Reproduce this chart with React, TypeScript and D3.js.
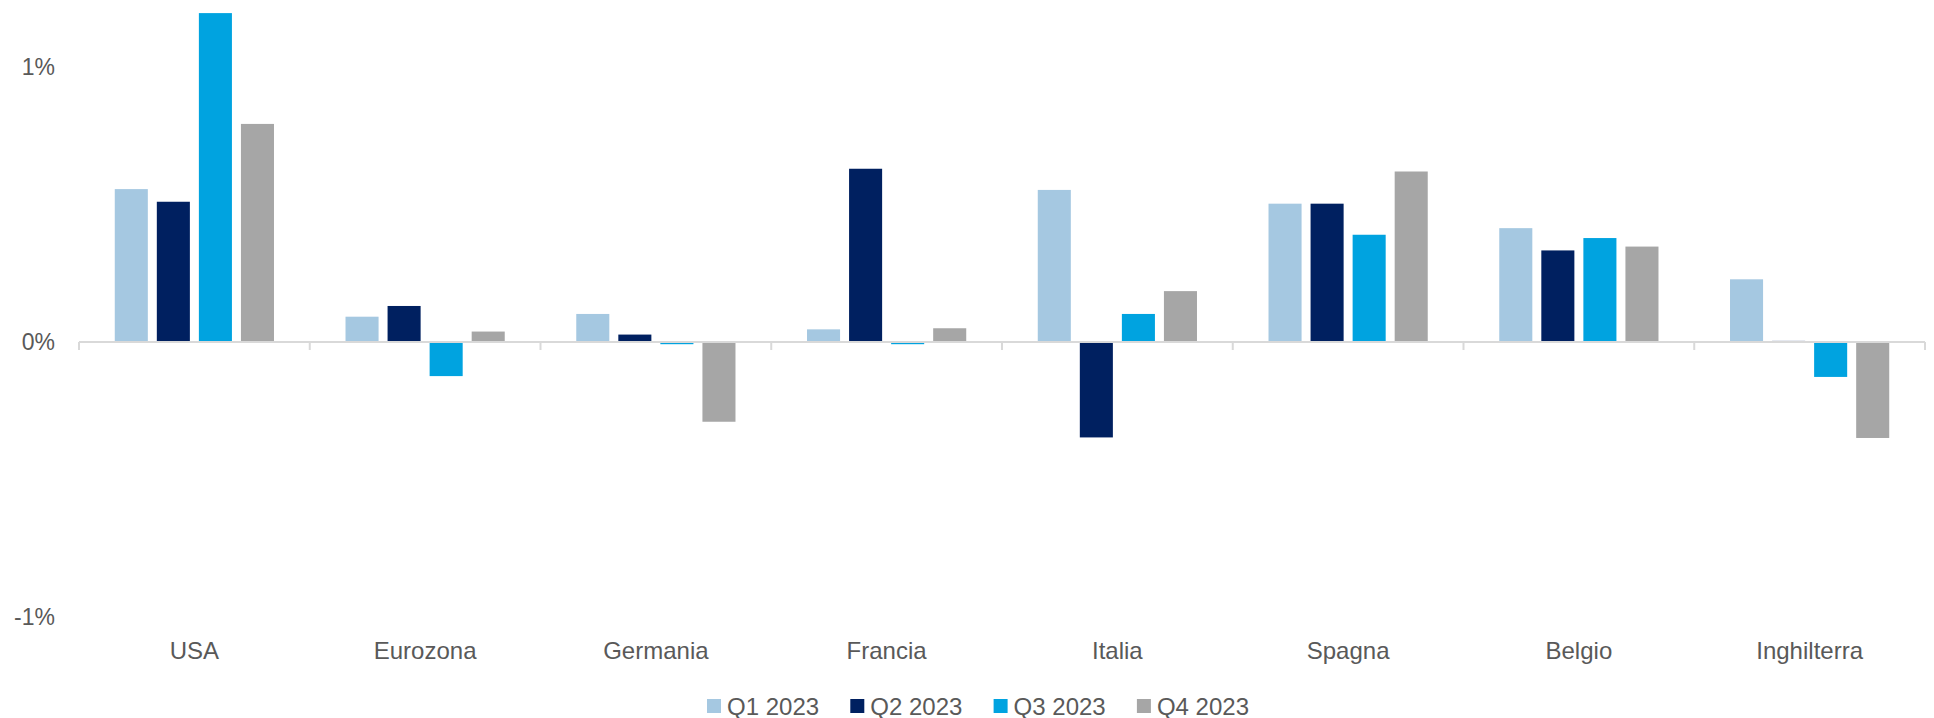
import React from "react";
import * as d3 from "d3";

const categories = ["USA", "Eurozona", "Germania", "Francia", "Italia", "Spagna", "Belgio", "Inghilterra"];
const seriesNames = ["Q1 2023", "Q2 2023", "Q3 2023", "Q4 2023"];
const seriesColors = ["#a5c8e1", "#002060", "#00a3e0", "#a6a6a6"];

// values in %
const q1 = [0.556, 0.092, 0.102, 0.046, 0.553, 0.503, 0.414, 0.228];
const q2 = [0.51, 0.131, 0.027, 0.63, -0.347, 0.503, 0.333, 0.004];
const q3 = [1.196, -0.124, -0.008, -0.008, 0.102, 0.39, 0.378, -0.127];
const q4 = [0.793, 0.038, -0.29, 0.05, 0.185, 0.62, 0.347, -0.349];
const yTicks = [-1, 0, 1];

const W = 1934,
  H = 718;

export default function App() {
  const allSeries = [q1, q2, q3, q4];
  const left = 79,
    right = 1925;

  const x0 = d3
    .scaleBand()
    .domain(categories)
    .range([left, right])
    .paddingInner(0.31)
    .paddingOuter(0.155);

  const x1 = d3
    .scaleBand()
    .domain(seriesNames)
    .range([0, x0.bandwidth()])
    .paddingInner(0.214);

  const y = d3.scaleLinear().domain([-1, 1]).range([617, 67]);
  const y0 = y(0);
  const step = x0.step();
  const boundaries = d3.range(categories.length + 1).map((i) => left + i * step);

  // legend: one slot per series, centred under the plot
  const legend = d3.scaleBand().domain(seriesNames).range([707, 707 + 4 * 143.3]);

  return (
    <svg
      width={W}
      height={H}
      style={{ position: "absolute", left: 0, top: 0, background: "#fff" }}
      fontFamily="'Liberation Sans', Arial, sans-serif"
    >
      {/* y labels */}
      {yTicks.map((t) => (
        <text
          key={t}
          x={55}
          y={y(t)}
          textAnchor="end"
          dominantBaseline="central"
          fontSize={23}
          fill="#595959"
        >
          {t}%
        </text>
      ))}

      {/* bars */}
      {categories.map((c, ci) => (
        <g key={c} transform={`translate(${x0(c)},0)`}>
          {allSeries.map((s, si) => {
            const v = s[ci];
            const yy = y(Math.max(0, v));
            const hh = Math.abs(y(v) - y0);
            return (
              <rect
                key={si}
                x={x1(seriesNames[si])}
                y={yy}
                width={x1.bandwidth()}
                height={Math.max(hh, 0.8)}
                fill={seriesColors[si]}
              />
            );
          })}
        </g>
      ))}

      {/* x axis */}
      <line x1={left} x2={right} y1={y0} y2={y0} stroke="#d9d9d9" strokeWidth={2} />
      {boundaries.map((bx, i) => (
        <line key={i} x1={bx} x2={bx} y1={y0} y2={y0 + 8} stroke="#d9d9d9" strokeWidth={2} />
      ))}

      {categories.map((c) => (
        <text
          key={c}
          x={x0(c)! + x0.bandwidth() / 2}
          y={650}
          textAnchor="middle"
          dominantBaseline="central"
          fontSize={24}
          fill="#595959"
        >
          {c}
        </text>
      ))}

      {/* legend */}
      {seriesNames.map((n, i) => (
        <g key={n} transform={`translate(${legend(n)},0)`}>
          <rect x={0} y={699} width={14} height={14} fill={seriesColors[i]} />
          <text x={20} y={706} dominantBaseline="central" fontSize={24} fill="#595959">
            {n}
          </text>
        </g>
      ))}
    </svg>
  );
}
